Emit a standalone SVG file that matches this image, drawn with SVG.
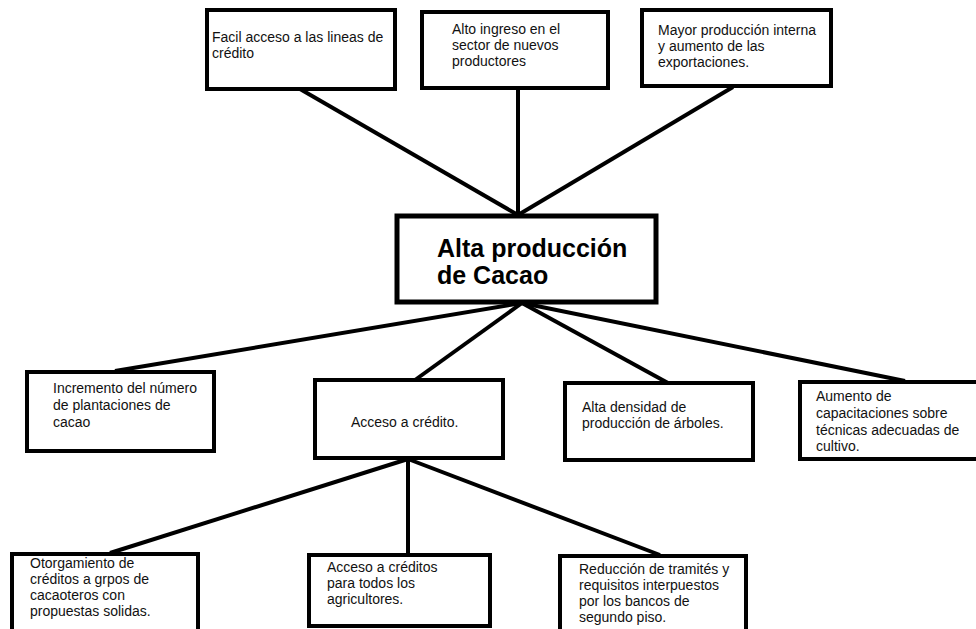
<svg xmlns="http://www.w3.org/2000/svg" width="976" height="629" viewBox="0 0 976 629">
<style>
.box{fill:#fff;stroke:#000;stroke-width:4}
.t{font-family:"Liberation Sans",Arial,sans-serif;font-size:14px;fill:#111}
.big{font-family:"Liberation Sans",Arial,sans-serif;font-size:25px;font-weight:bold;fill:#000}
.ln{stroke:#000;stroke-width:4;fill:none}
</style>
<rect width="976" height="629" fill="#fff"/>
<g id="connectors">
<line class="ln" x1="300" y1="89" x2="518" y2="215"/>
<line class="ln" x1="518" y1="89" x2="518" y2="215"/>
<line class="ln" x1="733" y1="87" x2="518" y2="215"/>
<line class="ln" x1="522" y1="303" x2="115" y2="371"/>
<line class="ln" x1="522" y1="303" x2="415" y2="380"/>
<line class="ln" x1="522" y1="303" x2="668" y2="383"/>
<line class="ln" x1="522" y1="303" x2="905" y2="381"/>
<line class="ln" x1="408" y1="459" x2="110" y2="553"/>
<line class="ln" x1="408" y1="459" x2="408" y2="554"/>
<line class="ln" x1="408" y1="459" x2="660" y2="555"/>
</g>
<g id="n1"><rect class="box" x="207" y="10" width="188" height="79"/>
<text class="t" x="212" y="42">Facil acceso a las lineas de</text><text class="t" x="212" y="58">crédito</text></g>
<g id="n2"><rect class="box" x="422" y="12" width="186" height="76"/>
<text class="t" x="452" y="34">Alto ingreso en el</text><text class="t" x="452" y="50">sector de nuevos</text><text class="t" x="452" y="66">productores</text></g>
<g id="n3"><rect class="box" x="642" y="10" width="189" height="76"/>
<text class="t" x="658" y="35">Mayor producción interna</text><text class="t" x="658" y="51">y aumento de las</text><text class="t" x="658" y="67">exportaciones.</text></g>
<g id="center"><rect class="box" x="397" y="216" width="259" height="86" style="stroke-width:5"/>
<text class="big" x="437" y="257">Alta producción</text><text class="big" x="437" y="284">de Cacao</text></g>
<g id="n4"><rect class="box" x="27" y="372" width="187" height="79"/>
<text class="t" x="53" y="393">Incremento del número</text><text class="t" x="53" y="410">de plantaciones de</text><text class="t" x="53" y="427">cacao</text></g>
<g id="n5"><rect class="box" x="315" y="380" width="188" height="78"/>
<text class="t" x="351" y="427">Acceso a crédito.</text></g>
<g id="n6"><rect class="box" x="565" y="383" width="188" height="77"/>
<text class="t" x="582" y="412">Alta densidad de</text><text class="t" x="582" y="428">producción de árboles.</text></g>
<g id="n7"><rect class="box" x="800" y="382" width="180" height="77"/>
<text class="t" x="816" y="401">Aumento de</text><text class="t" x="816" y="418">capacitaciones sobre</text><text class="t" x="816" y="435">técnicas adecuadas de</text><text class="t" x="816" y="451">cultivo.</text></g>
<g id="n8"><rect class="box" x="12" y="554" width="186" height="90"/>
<text class="t" x="30" y="568">Otorgamiento de</text><text class="t" x="30" y="584">créditos a grpos de</text><text class="t" x="30" y="600">cacaoteros con</text><text class="t" x="30" y="616">propuestas solidas.</text></g>
<g id="n9"><rect class="box" x="309" y="555" width="181" height="71"/>
<text class="t" x="327" y="572">Acceso a créditos</text><text class="t" x="327" y="588">para todos los</text><text class="t" x="327" y="604">agricultores.</text></g>
<g id="n10"><rect class="box" x="560" y="556" width="186" height="90"/>
<text class="t" x="579" y="574">Reducción de tramités y</text><text class="t" x="579" y="590">requisitos interpuestos</text><text class="t" x="579" y="606">por los bancos de</text><text class="t" x="579" y="622">segundo piso.</text></g>
</svg>
